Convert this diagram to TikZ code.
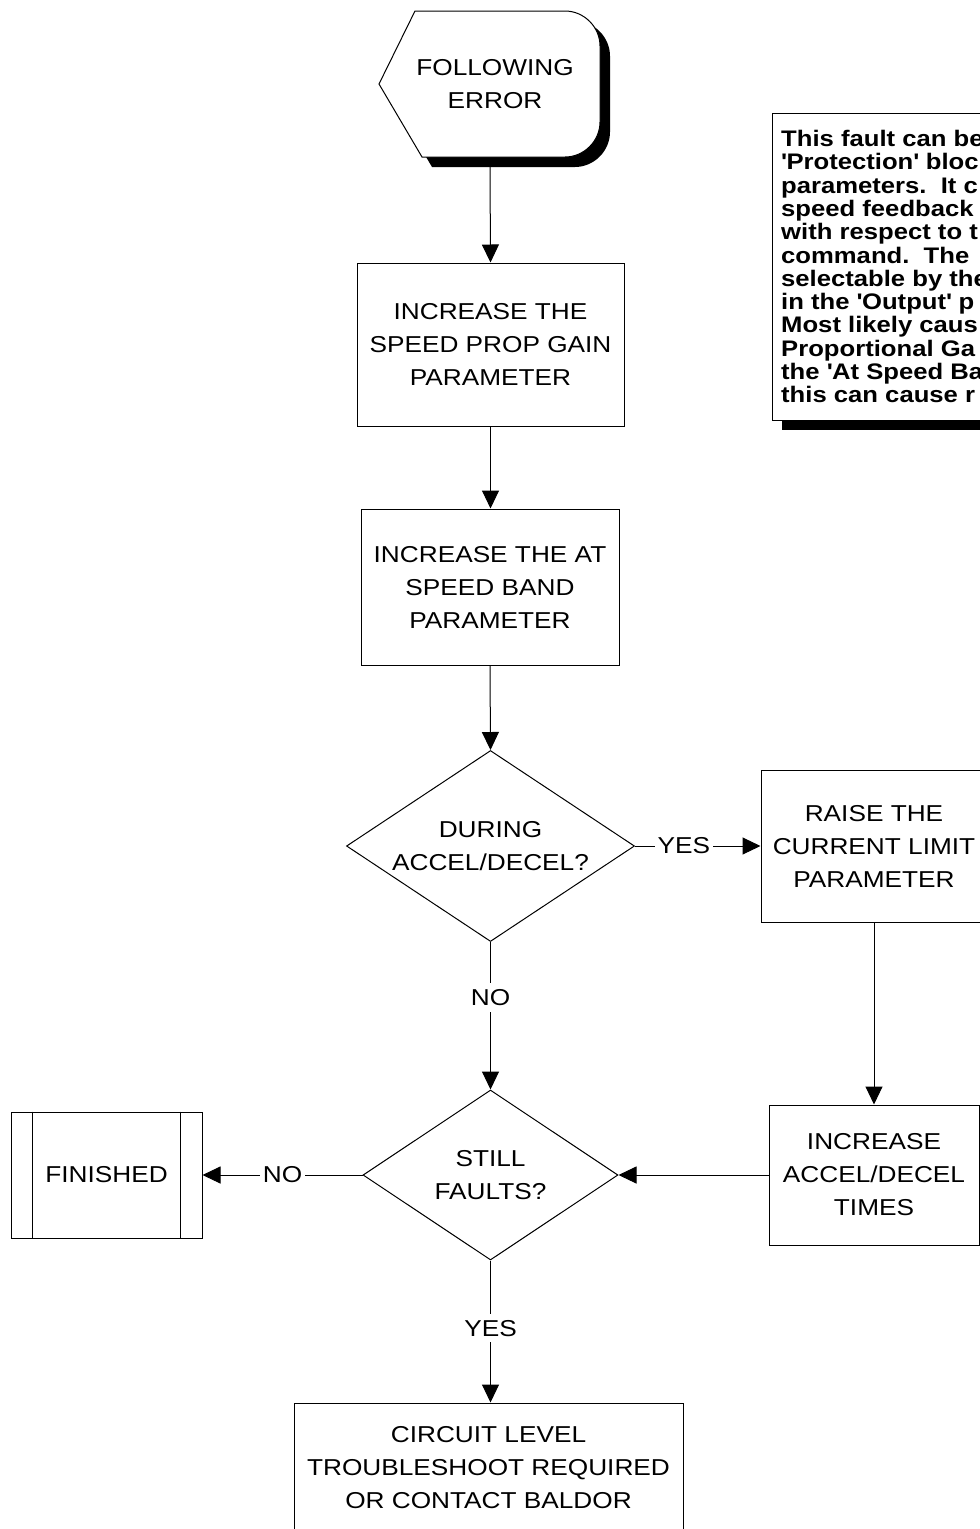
\documentclass[tikz,border=0pt]{standalone}
\usepackage{fontspec}
\setmainfont{Liberation Sans}[FakeStretch=1.14]
\usetikzlibrary{shapes.geometric,arrows.meta}
\newcommand{\sq}{\textquotesingle}
\begin{document}
\begin{tikzpicture}[x=1pt,y=-1pt,
  bigtxt/.style={font=\fontsize{23}{33}\selectfont},
  box/.style={draw, line width=1pt, rectangle, inner sep=0pt, align=center, bigtxt},
  dec/.style={draw, line width=1pt, diamond, aspect=1.5, inner sep=0pt, align=center, bigtxt},
  arr/.style={line width=1pt, -{Triangle[length=18pt,width=17pt]}},
  lbl/.style={fill=white, inner xsep=3pt, inner ysep=6pt, bigtxt}]
\useasboundingbox (0,0) rectangle (980,1529);
\clip (0,0) rectangle (980,1529);
\fill[white] (0,0) rectangle (980,1529);

% start terminal (display shape) with shadow
\fill[black, shift={(10,10)}] (415,11) -- (565,11) .. controls (584,11) and (600,27) .. (600,46)
  -- (600,122) .. controls (600,141) and (584,157) .. (565,157) -- (422,157) -- (379,84) -- cycle;
\filldraw[fill=white, draw=black, line width=1pt] (415,11) -- (565,11) .. controls (584,11) and (600,27) .. (600,46)
  -- (600,122) .. controls (600,141) and (584,157) .. (565,157) -- (422,157) -- (379,84) -- cycle;
\node[bigtxt, align=center, inner sep=0pt] (start) at (495,84) {FOLLOWING\\ERROR};
\coordinate (startb) at (490,167);

% note box with shadow
\fill[black] (782,123) rectangle (1010,430);
\filldraw[fill=white, draw=black, line width=1pt] (772,113) rectangle (1000,420);
\node[anchor=north west, inner sep=0pt, align=left, font=\fontsize{22.5}{23.3}\selectfont\bfseries] (note) at (781,130)
 {This fault can be\\
 \sq Protection\sq{} bloc\\
 parameters.\ \ It c\\
 speed feedback\\
 with respect to t\\
 command.\ \ The\\
 selectable by the\\
 in the \sq Output\sq{} p\\
 Most likely caus\\
 Proportional Ga\\
 the \sq At Speed Ba\\
 this can cause r};

% process boxes
\node[box, minimum width=267pt, minimum height=163pt] (b1) at (490.5,344.5) {INCREASE THE\\SPEED PROP GAIN\\PARAMETER};
\node[box, minimum width=258pt, minimum height=156pt] (b2) at (490,587) {INCREASE THE AT\\SPEED BAND\\PARAMETER};
\node[dec, minimum width=288pt, minimum height=191pt] (d1) at (490.5,846) {DURING\\ACCEL/DECEL?};
\node[box, minimum width=226pt, minimum height=152pt] (b3) at (874,846) {RAISE THE\\CURRENT LIMIT\\PARAMETER};
\node[box, minimum width=210pt, minimum height=140pt] (b4) at (874,1175) {INCREASE\\ACCEL/DECEL\\TIMES};
\node[dec, minimum width=255pt, minimum height=170pt] (d2) at (490.5,1175) {STILL\\FAULTS?};
\node[box, minimum width=191pt, minimum height=126pt] (fin) at (106.5,1175) {FINISHED};
\draw[line width=1pt] ([xshift=22pt]fin.north west) -- ([xshift=22pt]fin.south west);
\draw[line width=1pt] ([xshift=-22pt]fin.north east) -- ([xshift=-22pt]fin.south east);
\node[box, minimum width=389pt, minimum height=130pt] (b5) at (488.5,1468) {CIRCUIT LEVEL\\TROUBLESHOOT REQUIRED\\OR CONTACT BALDOR};

% connectors
\draw[arr] (startb) -- (b1.north);
\draw[arr] (b1.south) -- (b1.south |- b2.north);
\draw[arr] (b2.south) -- (d1.north);
\draw[arr] (d1.east) -- node[lbl, pos=0.39] {YES} (b3.west);
\draw[arr] (d1.south) -- node[lbl, pos=0.376] {NO} (d2.north);
\draw[arr] (b3.south) -- (b4.north);
\draw[arr] (b4.west) -- (d2.east);
\draw[arr] (d2.west) -- node[lbl, pos=0.5] {NO} (fin.east);
\draw[arr] (d2.south) -- node[lbl, pos=0.476] {YES} (d2.south |- b5.north);
\end{tikzpicture}
\end{document}
